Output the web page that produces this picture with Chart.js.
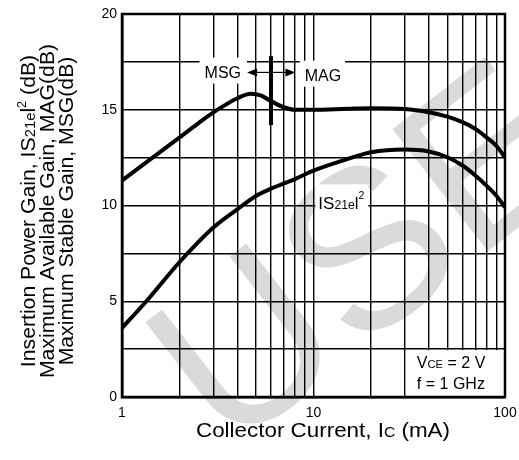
<!DOCTYPE html>
<html>
<head>
<meta charset="utf-8">
<script src="https://cdn.jsdelivr.net/npm/chart.js@4/dist/chart.umd.min.js"></script>
<style>
  html, body { margin: 0; padding: 0; background: #fff; }
  #wrap { width: 519px; height: 460px; }
</style>
</head>
<body>
<div id="wrap"><canvas id="gain" width="519" height="460"></canvas></div>
<script>
const FAMILY = '"Liberation Sans", Arial, Helvetica, sans-serif';

// collector current (mA) and gain (dB)
const IC_MAG = [1, 2, 2.5, 3, 3.5, 4, 4.7, 5.3, 6, 7, 8, 10, 15, 20, 30, 40, 50, 60, 70, 80, 90, 100];
const GAIN_MAG = [11.3, 13.56, 14.29, 14.86, 15.28, 15.6, 15.84, 15.75, 15.45, 15.13, 15.0, 15.0, 15.05, 15.08, 15.04, 14.87, 14.64, 14.35, 14.0, 13.56, 13.12, 12.52];

const IC_S21 = [1, 1.34, 2, 3, 4, 5, 6, 7, 8, 10, 15, 20, 30, 40, 50, 60, 70, 80, 90, 100];
const GAIN_S21 = [3.6, 5.0, 7.05, 8.85, 9.8, 10.5, 10.88, 11.15, 11.38, 11.82, 12.42, 12.78, 12.92, 12.82, 12.52, 12.09, 11.57, 11.04, 10.52, 9.9];

const X_GRID = [1, 2, 3, 4, 5, 6, 7, 8, 9, 10, 20, 30, 40, 50, 60, 70, 80, 90, 100];
const X_LABELS = [1, 10, 100];
const Y_LABELS = [0, 5, 10, 15, 20];

// MSG / MAG boundary
const SPLIT_IC = 6;
const SPLIT_RANGE = [14.2, 17.8];
const ARROW_GAIN = 16.95;
const ARROW_TIPS = [4.5, 8.05];

// curve label anchors (mA, dB)
const MSG_AT = [3.36, 16.68];
const MAG_AT = [11.2, 16.52];
const S21_AT = [10.6, 9.8];

// rich text runs: [text, size factor, rise in em]; stretch widens glyphs
function richText(ctx, runs, x, y, size, align, stretch = 1) {
  const widths = runs.map(([t, k]) => {
    ctx.font = `${size * k}px ${FAMILY}`;
    return ctx.measureText(t).width;
  });
  const total = widths.reduce((a, b) => a + b, 0) * stretch;
  const start = align === "center" ? x - total / 2 : align === "right" ? x - total : x;
  ctx.save();
  ctx.translate(start, y);
  ctx.scale(stretch, 1);
  let cx = 0;
  runs.forEach(([t, k, rise], i) => {
    ctx.font = `${size * k}px ${FAMILY}`;
    ctx.fillText(t, cx, -(rise || 0) * size);
    cx += widths[i];
  });
  ctx.restore();
  return total;
}

function whiteBox(ctx, x1, y1, x2, y2) {
  ctx.fillStyle = "#fff";
  ctx.fillRect(x1, y1, x2 - x1, y2 - y1);
}

const overlay = {
  id: "overlay",
  beforeDraw(chart) {
    // faint watermark lettering behind the plot
    const ctx = chart.ctx;
    ctx.save();
    ctx.translate(227, 455);
    ctx.rotate(-38 * Math.PI / 180);
    ctx.fillStyle = "#dadada";
    ctx.font = `225px ${FAMILY}`;
    ctx.textBaseline = "alphabetic";
    ctx.fillText("USE", 0, 0);
    ctx.restore();
  },
  beforeDatasetsDraw(chart) {
    const { ctx, scales: { x, y } } = chart;
    ctx.save();
    // label backgrounds cut the grid
    ctx.font = `16px ${FAMILY}`;
    const msgW = ctx.measureText("MSG").width;
    const magW = ctx.measureText("MAG").width;
    const msgX = x.getPixelForValue(MSG_AT[0]), msgY = y.getPixelForValue(MSG_AT[1]);
    const magX = x.getPixelForValue(MAG_AT[0]), magY = y.getPixelForValue(MAG_AT[1]);
    whiteBox(ctx, msgX - msgW / 2 - 5, msgY - 20, msgX + msgW / 2 + 6, msgY + 6);
    whiteBox(ctx, magX - magW / 2 - 5, magY - 20, magX + magW / 2 + 4, magY + 6);
    const sX = x.getPixelForValue(S21_AT[0]), sY = y.getPixelForValue(S21_AT[1]);
    whiteBox(ctx, sX - 3, sY - 25, sX + 50, sY + 3);
    whiteBox(ctx, x.getPixelForValue(30) + 1, y.getPixelForValue(2.5) + 1, x.getPixelForValue(100) - 1, y.getPixelForValue(0) - 1);
    ctx.restore();
  },
  afterDatasetsDraw(chart) {
    const { ctx, chartArea: a, scales: { x, y } } = chart;
    ctx.save();
    ctx.strokeStyle = "#000";
    ctx.lineWidth = 2.5;
    ctx.strokeRect(a.left, a.top, a.right - a.left, a.bottom - a.top);

    // boundary marker
    const mx = x.getPixelForValue(SPLIT_IC);
    ctx.lineWidth = 4;
    ctx.beginPath();
    ctx.moveTo(mx, y.getPixelForValue(SPLIT_RANGE[0]));
    ctx.lineTo(mx, y.getPixelForValue(SPLIT_RANGE[1]));
    ctx.stroke();

    // arrows either side
    const ay = y.getPixelForValue(ARROW_GAIN);
    ctx.lineWidth = 1.2;
    ctx.fillStyle = "#000";
    ARROW_TIPS.forEach((v) => {
      const tip = x.getPixelForValue(v);
      const dir = tip < mx ? 1 : -1;
      ctx.beginPath();
      ctx.moveTo(tip + dir * 8, ay);
      ctx.lineTo(mx, ay);
      ctx.stroke();
      ctx.beginPath();
      ctx.moveTo(tip, ay);
      ctx.lineTo(tip + dir * 10, ay - 4);
      ctx.lineTo(tip + dir * 10, ay + 4);
      ctx.closePath();
      ctx.fill();
    });

    ctx.textBaseline = "alphabetic";
    ctx.fillStyle = "#000";
    richText(ctx, [["MSG", 1]], x.getPixelForValue(MSG_AT[0]), y.getPixelForValue(MSG_AT[1]), 16, "center");
    richText(ctx, [["MAG", 1]], x.getPixelForValue(MAG_AT[0]), y.getPixelForValue(MAG_AT[1]), 16, "center");
    richText(ctx, [["IS", 1], ["21e", 0.72], ["l", 1], ["2", 0.62, 0.62]],
      x.getPixelForValue(S21_AT[0]), y.getPixelForValue(S21_AT[1]), 17, "left");

    // test conditions
    const cx = x.getPixelForValue(30) + 12;
    richText(ctx, [["V", 1], ["CE", 0.7], [" = 2 V", 1]], cx, y.getPixelForValue(1.5), 16, "left");
    richText(ctx, [["f = 1 GHz", 1]], cx, y.getPixelForValue(0.4), 16, "left");

    // axis titles
    richText(ctx, [["Collector Current, I", 1], ["C", 0.7], [" (mA)", 1]], 323, 437, 20, "center", 1.12);
    const yLines = [
      [["Insertion Power Gain, IS", 1], ["21e", 0.7], ["l", 1], ["2", 0.6, 0.45], [" (dB)", 1]],
      [["Maximum Available Gain, MAG(dB)", 1]],
      [["Maximum Stable Gain, MSG(dB)", 1]],
    ];
    yLines.forEach((runs, i) => {
      ctx.save();
      ctx.translate(35 + i * 19, 211);
      ctx.rotate(-Math.PI / 2);
      richText(ctx, runs, 0, 0, 20, "center", 1.06);
      ctx.restore();
    });
    ctx.restore();
  },
};

const curve = (xs, ys) => xs.map((v, i) => ({ x: v, y: ys[i] }));

new Chart(document.getElementById("gain"), {
  type: "line",
  data: {
    datasets: [
      { label: "MSG / MAG", data: curve(IC_MAG, GAIN_MAG), borderColor: "#000", borderWidth: 4, pointRadius: 0, cubicInterpolationMode: "monotone" },
      { label: "|S21e|2", data: curve(IC_S21, GAIN_S21), borderColor: "#000", borderWidth: 4, pointRadius: 0, cubicInterpolationMode: "monotone" },
    ],
  },
  options: {
    responsive: false,
    animation: false,
    devicePixelRatio: 1,
    layout: { padding: { top: 14, right: 14, left: 0, bottom: 0 } },
    plugins: { legend: { display: false }, tooltip: { enabled: false } },
    scales: {
      x: {
        type: "logarithmic",
        min: 1,
        max: 100,
        afterBuildTicks: (s) => { s.ticks = X_GRID.map((v) => ({ value: v })); },
        afterFit: (s) => { s.height = 63; s.paddingLeft = 0; s.paddingRight = 0; },
        ticks: {
          autoSkip: false,
          maxRotation: 0,
          padding: 8,
          color: "#000",
          font: { family: FAMILY, size: 14 },
          callback: (v) => (X_LABELS.includes(v) ? String(v) : ""),
        },
        grid: { color: "#000", lineWidth: 1.4, drawTicks: false },
        border: { color: "#000", width: 2.5 },
      },
      y: {
        min: 0,
        max: 20,
        afterFit: (s) => { s.width = 122; s.paddingTop = 0; s.paddingBottom = 0; },
        ticks: {
          stepSize: 2.5,
          padding: 5,
          color: "#000",
          font: { family: FAMILY, size: 14 },
          callback: (v) => (Y_LABELS.includes(v) ? String(v) : ""),
        },
        grid: { color: "#000", lineWidth: 1.4, drawTicks: false },
        border: { color: "#000", width: 2.5 },
      },
    },
  },
  plugins: [overlay],
});
</script>
</body>
</html>
